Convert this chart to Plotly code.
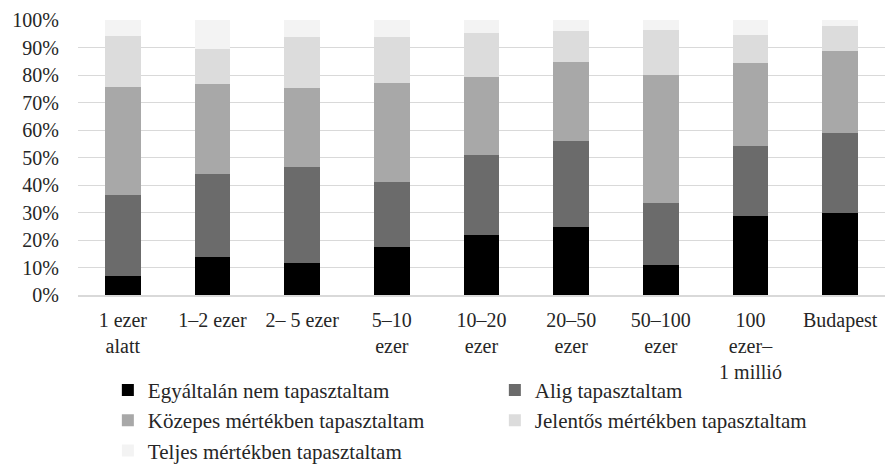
import plotly.graph_objects as go

categories = ["1 ezer<br>alatt", "1–2 ezer", "2– 5 ezer", "5–10<br>ezer", "10–20<br>ezer",
              "20–50<br>ezer", "50–100<br>ezer", "100<br>ezer–<br>1 millió", "Budapest"]

egyaltalan = [6.8, 13.7, 11.6, 17.3, 22.0, 24.6, 10.9, 28.6, 29.7]
alig = [29.4, 30.3, 34.8, 23.9, 28.8, 31.4, 22.4, 25.7, 29.2]
kozepes = [39.5, 32.8, 28.9, 36.0, 28.6, 28.7, 46.8, 29.9, 29.8]
jelentos = [18.5, 12.8, 18.4, 16.8, 15.7, 11.4, 16.4, 10.2, 9.0]
teljes = [5.8, 10.4, 6.3, 6.0, 4.9, 3.9, 3.5, 5.6, 2.3]

series_names = ["Egyáltalán nem tapasztaltam", "Alig tapasztaltam",
                "Közepes mértékben tapasztaltam", "Jelentős mértékben tapasztaltam",
                "Teljes mértékben tapasztaltam"]
series_values = [egyaltalan, alig, kozepes, jelentos, teljes]
colors = ["#000000", "#6b6b6b", "#a8a8a8", "#dcdcdc", "#f3f3f3"]

y_ticks = list(range(0, 101, 10))

FONT = "Liberation Serif"

fig = go.Figure()
for name, vals, col in zip(series_names, series_values, colors):
    fig.add_trace(go.Bar(x=categories, y=vals, name=name,
                         marker=dict(color=col, line=dict(width=0))))

fig.update_layout(
    width=885, height=466,
    margin=dict(l=78, r=0, t=20, b=171, autoexpand=False),
    barmode="stack", bargap=0.6,
    plot_bgcolor="white", paper_bgcolor="white",
    font=dict(family=FONT, size=20, color="#262626"),
    showlegend=True,
    legend=dict(orientation="h", x=0.037, xanchor="left", y=-0.272, yanchor="top",
                entrywidth=342, entrywidthmode="pixels", traceorder="normal",
                font=dict(family=FONT, size=21, color="#262626"),
                bgcolor="rgba(0,0,0,0)"),
)
fig.update_xaxes(showgrid=False, showline=True, linecolor="#d9d9d9", linewidth=1.5,
                 ticks="", tickfont=dict(family=FONT, size=20, color="#262626"),
                 tickangle=0, ticklabelstandoff=6, automargin=False)
fig.update_yaxes(range=[0, 100], tickvals=y_ticks, ticktext=[f"{v}%" for v in y_ticks],
                 showgrid=True, gridcolor="#d9d9d9", gridwidth=1, zeroline=False,
                 showline=False, ticks="", ticklabelstandoff=18, automargin=False,
                 tickfont=dict(family=FONT, size=20, color="#262626"))

fig.write_html("out.html", config={"displayModeBar": False},
               post_script="document.body.style.margin='0';")
